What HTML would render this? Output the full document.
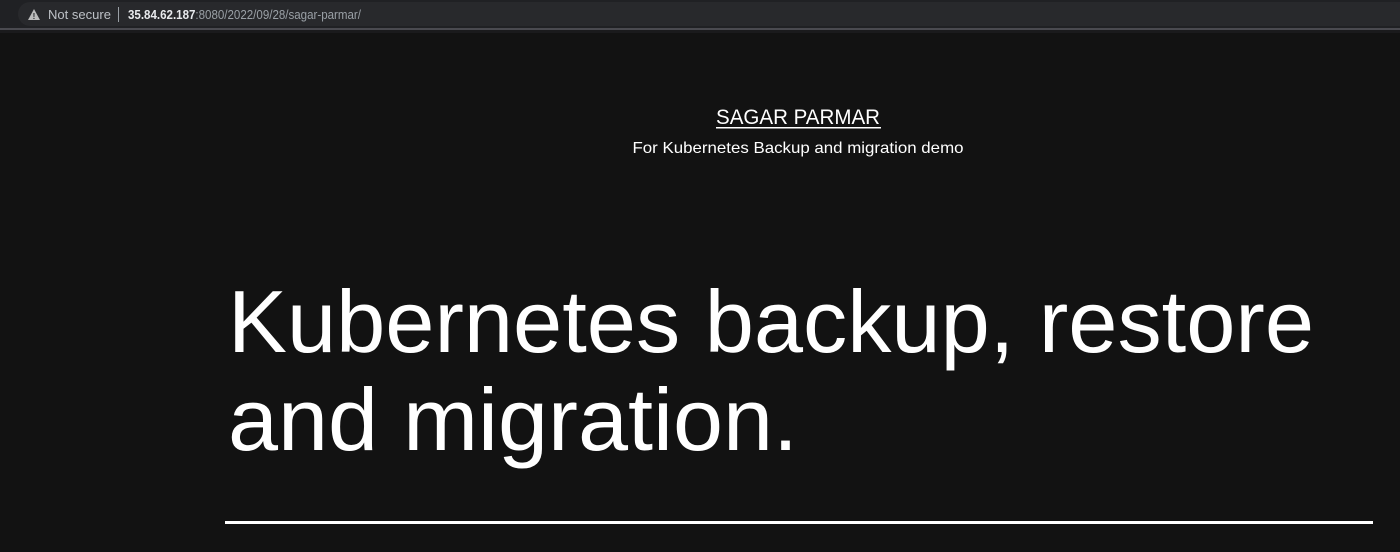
<!DOCTYPE html>
<html><head><meta charset="utf-8"><style>
html,body{margin:0;padding:0;width:1400px;height:552px;background:#121212;overflow:hidden;font-family:"Liberation Sans",sans-serif}
.bar{position:absolute;left:0;top:0;width:1400px;height:28px;background:#202124}
.sep{position:absolute;left:0;top:28px;width:1400px;height:2px;background:#4a4a50}
.sep2{position:absolute;left:0;top:30px;width:1400px;height:3px;background:#1a1a1c}
.pill{position:absolute;left:18px;top:2px;width:1400px;height:24px;border-radius:12px;background:#28292c}
</style></head><body>
<div class="bar"></div><div class="pill"></div><div class="sep"></div><div class="sep2"></div>
<svg width="1400" height="552" style="position:absolute;left:0;top:0" xmlns="http://www.w3.org/2000/svg">
<polygon points="28,20 34,9 40,20" fill="#bbb"/>
<text x="34" y="19" fill="#28292c" font-size="8" font-weight="bold" text-anchor="middle">!</text>
<text x="48" y="19" fill="#bdc1c6" font-size="13" textLength="63" lengthAdjust="spacingAndGlyphs">Not secure</text>
<rect x="118" y="7" width="1" height="15" fill="#9aa0a6"/>
<text x="128" y="19" font-size="13" textLength="233" lengthAdjust="spacingAndGlyphs"><tspan fill="#e8eaed" font-weight="bold">35.84.62.187</tspan><tspan fill="#9aa0a6">:8080/2022/09/28/sagar-parmar/</tspan></text>
<text x="798" y="124" fill="#fff" font-size="21" text-anchor="middle" textLength="164" lengthAdjust="spacingAndGlyphs">SAGAR PARMAR</text>
<rect x="716" y="127" width="165" height="1.5" fill="#fff"/>
<text x="798" y="153" fill="#fff" font-size="16" text-anchor="middle" textLength="331" lengthAdjust="spacingAndGlyphs">For Kubernetes Backup and migration demo</text>
<text x="228" y="352" fill="#fff" font-size="88" textLength="1086" lengthAdjust="spacingAndGlyphs">Kubernetes backup, restore</text>
<text x="228" y="450" fill="#fff" font-size="88" textLength="570" lengthAdjust="spacingAndGlyphs">and migration.</text>
<rect x="225" y="521" width="1148" height="3" fill="#fff"/>
</svg>
</body></html>
